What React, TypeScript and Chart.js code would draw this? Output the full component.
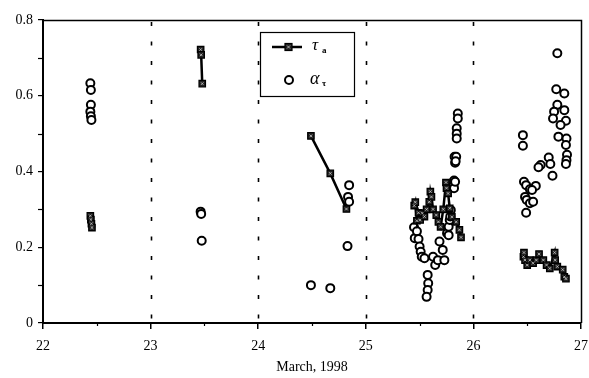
import React, { useEffect, useRef } from "react";
import { Chart, registerables } from "chart.js";

Chart.register(...registerables);

// τ_a (line with square markers); null separates days
const tauX: number[] = [
  22.44, 22.445, 22.45, 22.455, 22.46,
  23.465, 23.47, 23.48, 23.49,
  24.49, 24.67, 24.82, 24.83,
  25.45, 25.46, 25.475, 25.49, 25.505, 25.525, 25.545, 25.565, 25.59, 25.6, 25.61, 25.625,
  25.655, 25.675, 25.695, 25.72, 25.745, 25.75, 25.765, 25.78, 25.8, 25.84, 25.87, 25.885, 25.89,
  26.465, 26.47, 26.48, 26.5, 26.525, 26.555, 26.585, 26.61, 26.65, 26.68, 26.71, 26.755, 26.76,
  26.78, 26.83, 26.845, 26.86,
];
const tauY: (number | null)[] = [
  0.283, 0.273, 0.262, 0.252, null,
  0.722, 0.708, 0.632, null,
  0.494, 0.395, 0.301, null,
  0.31, 0.319, 0.27, 0.291, 0.272, 0.29, 0.281, 0.3, 0.32, 0.347, 0.333, 0.3,
  0.285, 0.267, 0.254, 0.3, 0.371, 0.356, 0.342, 0.303, 0.28, 0.267, 0.246, 0.226, null,
  0.175, 0.186, 0.166, 0.153, 0.166, 0.158, 0.166, 0.182, 0.166, 0.153, 0.144, 0.186, 0.166,
  0.149, 0.141, 0.122, 0.117,
];

// α_τ (open circles)
const alphaX: number[] = [
  22.44, 22.445, 22.445, 22.44, 22.445, 22.45,
  23.465, 23.47, 23.475,
  24.49, 24.67, 24.83, 24.845, 24.835, 24.845,
  25.448, 25.455, 25.475, 25.49, 25.5, 25.51, 25.52, 25.545, 25.575, 25.58, 25.575, 25.565,
  25.625, 25.645, 25.67, 25.685, 25.715, 25.73, 25.755, 25.77, 25.78, 25.77, 25.79, 25.785,
  25.815, 25.82, 25.825, 25.83, 25.82, 25.855, 25.855, 25.845, 25.845, 25.845, 25.84, 25.835,
  25.83,
  26.78, 26.77, 26.845, 26.78, 26.75, 26.845, 26.74, 26.86, 26.81, 26.79, 26.865, 26.86,
  26.87, 26.865, 26.86, 26.46, 26.46, 26.7, 26.715, 26.625, 26.605, 26.735, 26.47, 26.49,
  26.525, 26.58, 26.545, 26.48, 26.495, 26.525, 26.555, 26.49,
];
const alphaY: number[] = [
  0.633, 0.615, 0.576, 0.558, 0.546, 0.536,
  0.294, 0.288, 0.217,
  0.1, 0.092, 0.203, 0.364, 0.333, 0.32,
  0.253, 0.224, 0.242, 0.222, 0.202, 0.188, 0.175, 0.171, 0.127, 0.105, 0.087, 0.069,
  0.175, 0.153, 0.166, 0.215, 0.193, 0.166, 0.237, 0.254, 0.272, 0.232, 0.298, 0.281,
  0.364, 0.376, 0.439, 0.423, 0.356, 0.553, 0.54, 0.514, 0.5, 0.487, 0.439, 0.427,
  0.373,
  0.712, 0.617, 0.606, 0.576, 0.558, 0.562, 0.54, 0.534, 0.523, 0.492, 0.487, 0.47,
  0.444, 0.43, 0.42, 0.496, 0.468, 0.437, 0.42, 0.417, 0.411, 0.389, 0.373, 0.364,
  0.353, 0.362, 0.351, 0.333, 0.325, 0.316, 0.32, 0.291,
];

const dayGridLines = [23, 24, 25, 26];
const xMinorTicks = [22.5, 23.5, 24.5, 25.5, 26.5];
const yMinorTicks = [0.1, 0.3, 0.5, 0.7];
const xTitle = "March, 1998";
const legendTau = ["τ", "a"];
const legendAlpha = ["α", "τ"];

const SERIF = "'Liberation Serif', 'DejaVu Serif', serif";

const decorPlugin = {
  id: "decor",
  beforeDatasetsDraw(chart: any) {
    const { ctx, chartArea: ca, scales } = chart;
    const xs = scales.x;
    ctx.save();
    ctx.strokeStyle = "#000";
    ctx.lineWidth = 1.6;
    ctx.setLineDash([4, 15.5]);
    for (const d of dayGridLines) {
      const px = Math.round(xs.getPixelForValue(d)) + 0.5;
      ctx.beginPath();
      ctx.moveTo(px, ca.top + 2);
      ctx.lineTo(px, ca.bottom);
      ctx.stroke();
    }
    ctx.restore();
  },
  afterDraw(chart: any) {
    const { ctx, chartArea: ca, scales } = chart;
    const xs = scales.x;
    const ys = scales.y;
    ctx.save();
    ctx.strokeStyle = "#000";
    // frame top / right
    ctx.lineWidth = 1.5;
    ctx.beginPath();
    ctx.moveTo(ca.left, ca.top + 0.5);
    ctx.lineTo(ca.right + 0.5, ca.top + 0.5);
    ctx.lineTo(ca.right + 0.5, ca.bottom);
    ctx.stroke();
    // minor ticks
    ctx.lineWidth = 1.2;
    for (const v of xMinorTicks) {
      const px = Math.round(xs.getPixelForValue(v)) + 0.5;
      ctx.beginPath();
      ctx.moveTo(px, ca.bottom);
      ctx.lineTo(px, ca.bottom + 3);
      ctx.stroke();
    }
    for (const v of yMinorTicks) {
      const py = Math.round(ys.getPixelForValue(v)) + 0.5;
      ctx.beginPath();
      ctx.moveTo(ca.left - 5, py);
      ctx.lineTo(ca.left, py);
      ctx.stroke();
    }
    // legend
    const lx = ca.left + 217;
    const ly = ca.top + 12;
    ctx.fillStyle = "#fff";
    ctx.fillRect(lx, ly, 94, 64);
    ctx.lineWidth = 1.2;
    ctx.strokeRect(lx + 0.5, ly + 0.5, 94, 64);
    // tau entry
    const r1 = ly + 15;
    ctx.lineWidth = 2.5;
    ctx.beginPath();
    ctx.moveTo(lx + 12, r1);
    ctx.lineTo(lx + 42, r1);
    ctx.stroke();
    ctx.fillStyle = "#222";
    ctx.fillRect(lx + 25, r1 - 3.5, 7, 7);
    ctx.lineWidth = 1.2;
    ctx.strokeRect(lx + 25, r1 - 3.5, 7, 7);
    ctx.strokeStyle = "#ccc";
    ctx.lineWidth = 0.8;
    ctx.beginPath();
    ctx.moveTo(lx + 27, r1 - 1.5);
    ctx.lineTo(lx + 30, r1 + 1.5);
    ctx.moveTo(lx + 30, r1 - 1.5);
    ctx.lineTo(lx + 27, r1 + 1.5);
    ctx.stroke();
    ctx.strokeStyle = "#000";
    ctx.fillStyle = "#000";
    ctx.textBaseline = "middle";
    ctx.textAlign = "left";
    ctx.font = `italic 17px ${SERIF}`;
    ctx.fillText(legendTau[0], lx + 52, r1 - 1);
    ctx.font = `bold 9px ${SERIF}`;
    ctx.fillText(legendTau[1], lx + 62, r1 + 4);
    // alpha entry
    const r2 = ly + 48;
    ctx.beginPath();
    ctx.arc(lx + 29, r2, 4, 0, Math.PI * 2);
    ctx.fillStyle = "#fff";
    ctx.fill();
    ctx.lineWidth = 2;
    ctx.stroke();
    ctx.fillStyle = "#000";
    ctx.font = `italic 18px ${SERIF}`;
    ctx.fillText(legendAlpha[0], lx + 50, r2 - 1);
    ctx.font = `bold 9px ${SERIF}`;
    ctx.fillText(legendAlpha[1], lx + 62, r2 + 4);
    ctx.restore();
  },
};

export default function App() {
  const canvasRef = useRef<HTMLCanvasElement | null>(null);

  useEffect(() => {
    document.body.style.margin = "0";
    const canvas = canvasRef.current;
    if (!canvas) return;
    const tauData = tauX.map((x, i) => ({ x, y: tauY[i] }));
    const alphaData = alphaX.map((x, i) => ({ x, y: alphaY[i] }));
    const chart = new Chart(canvas, {
      type: "scatter",
      data: {
        datasets: [
          {
            label: "α_τ",
            data: alphaData,
            showLine: false,
            pointStyle: "circle",
            pointRadius: 4,
            pointBorderWidth: 2,
            pointBorderColor: "#000",
            pointBackgroundColor: "#fff",
            order: 2,
          },
          {
            label: "τ_a",
            data: tauData as any,
            showLine: true,
            spanGaps: false,
            borderColor: "#000",
            borderWidth: 2.5,
            pointStyle: "rect",
            pointRadius: 4.5,
            pointBorderWidth: 1.3,
            pointBorderColor: "#000",
            pointBackgroundColor: "#222",
            order: 1,
          },
          {
            label: "τ_a marks",
            data: tauData as any,
            showLine: false,
            pointStyle: "crossRot",
            pointRadius: 1.8,
            pointBorderWidth: 0.8,
            pointBorderColor: "#ccc",
            order: 0,
          },
        ],
      },
      options: {
        responsive: false,
        animation: false,
        layout: { padding: { top: 20, right: 8, left: 0, bottom: 0 } },
        plugins: {
          legend: { display: false },
          tooltip: { enabled: false },
        },
        scales: {
          x: {
            type: "linear",
            min: 22,
            max: 27,
            ticks: {
              stepSize: 1,
              color: "#000",
              padding: 9,
              font: { family: SERIF, size: 14 },
            },
            grid: {
              drawOnChartArea: false,
              drawTicks: true,
              tickLength: 6,
              color: "#000",
              lineWidth: 1.5,
            },
            border: { display: true, color: "#000", width: 2 },
            title: {
              display: true,
              text: xTitle,
              color: "#000",
              font: { family: SERIF, size: 14 },
              padding: { top: 0, bottom: 2 },
            },
            afterFit(scale: any) {
              scale.height = 55;
              scale.paddingRight = 0;
              scale.paddingLeft = 0;
            },
          },
          y: {
            type: "linear",
            min: 0,
            max: 0.8,
            ticks: {
              stepSize: 0.2,
              color: "#000",
              padding: 5,
              font: { family: SERIF, size: 14 },
              callback: (v: any) => (Number(v) === 0 ? "0" : Number(v).toFixed(1)),
            },
            grid: {
              drawOnChartArea: false,
              drawTicks: true,
              tickLength: 5,
              color: "#000",
              lineWidth: 1.2,
            },
            border: { display: true, color: "#000", width: 2 },
            afterFit(scale: any) {
              scale.width = 43;
              scale.paddingTop = 0;
              scale.paddingBottom = 0;
            },
          },
        },
      },
      plugins: [decorPlugin],
    });
    return () => chart.destroy();
  }, []);

  return (
    <div style={{ width: 589, height: 378 }}>
      <canvas ref={canvasRef} width={589} height={378} />
    </div>
  );
}
